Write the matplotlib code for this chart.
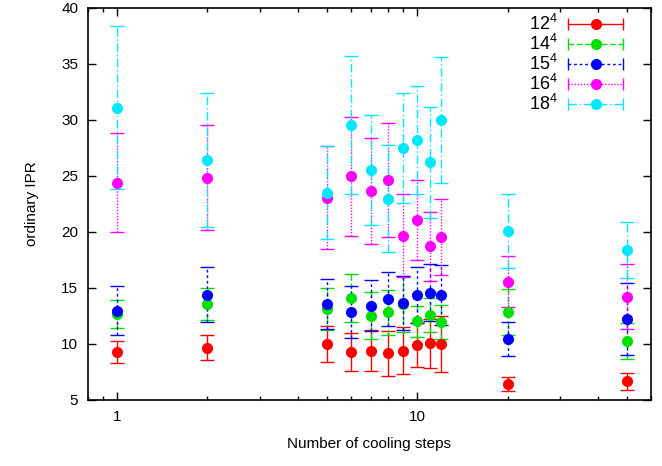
import numpy as np
import matplotlib
matplotlib.use("Agg")
import matplotlib.pyplot as plt
from matplotlib.lines import Line2D
from matplotlib.legend_handler import HandlerBase

plt.rcParams['font.family'] = ['Liberation Sans', 'DejaVu Sans']
plt.rcParams['mathtext.default'] = 'regular'

# number of cooling steps
steps = [1, 2, 5, 6, 7, 8, 9, 10, 11, 12, 20, 50]

# ordinary IPR and errors for each lattice size
ipr_12 = [9.25, 9.67, 10.0, 9.26, 9.37, 9.17, 9.4, 9.9, 10.06, 9.97, 6.43, 6.64]
err_12 = [1.0, 1.15, 1.63, 1.7, 1.83, 2.0, 2.1, 2.0, 2.2, 2.5, 0.63, 0.74]
ipr_14 = [12.68, 13.57, 13.12, 14.13, 12.5, 12.8, 13.57, 12.0, 12.59, 11.94, 12.88, 10.27]
err_14 = [1.25, 1.4, 1.9, 2.15, 2.1, 2.0, 2.5, 1.4, 1.5, 1.5, 2.05, 1.6]
ipr_15 = [12.95, 14.4, 13.54, 12.83, 13.42, 14.02, 13.63, 14.37, 14.58, 14.35, 10.42, 12.2]
err_15 = [2.2, 2.45, 2.25, 2.3, 2.3, 2.4, 2.4, 2.5, 2.55, 2.65, 1.53, 3.2]
ipr_16 = [24.4, 24.85, 23.06, 24.97, 23.63, 24.64, 19.67, 21.07, 18.7, 19.58, 15.56, 14.22]
err_16 = [4.4, 4.7, 4.6, 5.3, 4.75, 5.1, 3.7, 3.6, 3.1, 3.4, 2.27, 2.9]
ipr_18 = [31.1, 26.4, 23.5, 29.55, 25.5, 22.97, 27.47, 28.2, 26.2, 30.0, 20.1, 18.4]
err_18 = [7.3, 6.0, 4.15, 6.2, 4.9, 4.8, 4.9, 4.8, 4.95, 5.6, 3.3, 2.5]

labels = [r'$12^4$', r'$14^4$', r'$15^4$', r'$16^4$', r'$18^4$']
colors = ['#ff0000', '#00e000', '#0000ff', '#ff00ff', '#00e8ff']
styles = ['-', (0, (4, 2)), (0, (2, 2)), (0, (1, 1.2)), (0, (6, 2, 1, 2))]
series = [(ipr_12, err_12), (ipr_14, err_14), (ipr_15, err_15),
          (ipr_16, err_16), (ipr_18, err_18)]


class CapHandler(HandlerBase):
    # gnuplot-like key: horizontal bar with caps and a dot in the middle
    def __init__(self, color, ls):
        super().__init__()
        self.color = color
        self.ls = ls

    def create_artists(self, legend, orig_handle, xdescent, ydescent,
                       width, height, fontsize, trans):
        y = height / 2 - ydescent
        bar = Line2D([-xdescent, width - xdescent], [y, y], color=self.color,
                     ls=self.ls, lw=1.0, marker='|', markersize=8,
                     markeredgewidth=1.0)
        dot = Line2D([width / 2 - xdescent], [y], color=self.color,
                     marker='o', markersize=7, ls='none')
        bar.set_transform(trans)
        dot.set_transform(trans)
        return [bar, dot]


fig = plt.figure(figsize=(6.62, 4.66), dpi=100)
ax = fig.add_axes([0.133, 0.142, 0.85, 0.841])

handles = []
handler_map = {}
for (y, e), lab, c, ls in zip(series, labels, colors, styles):
    cont = ax.errorbar(steps, y, yerr=e, fmt='o', color=c, ms=7, capsize=5,
                       elinewidth=1.0, capthick=1.0)
    cont[2][0].set_linestyle(ls)
    h = Line2D([], [], color=c)
    handles.append(h)
    handler_map[h] = CapHandler(c, ls)

ax.set_xscale('log')
ax.set_xlim(0.8, 60)
ax.set_ylim(5, 40)
ax.set_yticks(np.arange(5, 41, 5))
ax.set_xticks([1, 10])
ax.set_xticklabels(['1', '10'])
ax.xaxis.set_minor_locator(matplotlib.ticker.LogLocator(subs=np.arange(2, 10)))
ax.xaxis.set_minor_formatter(matplotlib.ticker.NullFormatter())

ax.tick_params(which='both', direction='in', top=True, right=True,
               labelsize=11, width=1.0)
ax.tick_params(which='major', length=6, pad=7)
ax.tick_params(which='minor', length=3)
for sp in ax.spines.values():
    sp.set_linewidth(1.2)

ax.set_xlabel('Number of cooling steps', fontsize=11, labelpad=10)
ax.set_ylabel('ordinary IPR', fontsize=11, labelpad=16)

ax.legend(handles, labels, handler_map=handler_map, loc='upper right',
          bbox_to_anchor=(0.95, 0.985), frameon=False, markerfirst=False,
          fontsize=13, handlelength=3.0, labelspacing=0.0,
          handletextpad=0.6, borderaxespad=0, borderpad=0)

fig.savefig('out.png', dpi=100)
